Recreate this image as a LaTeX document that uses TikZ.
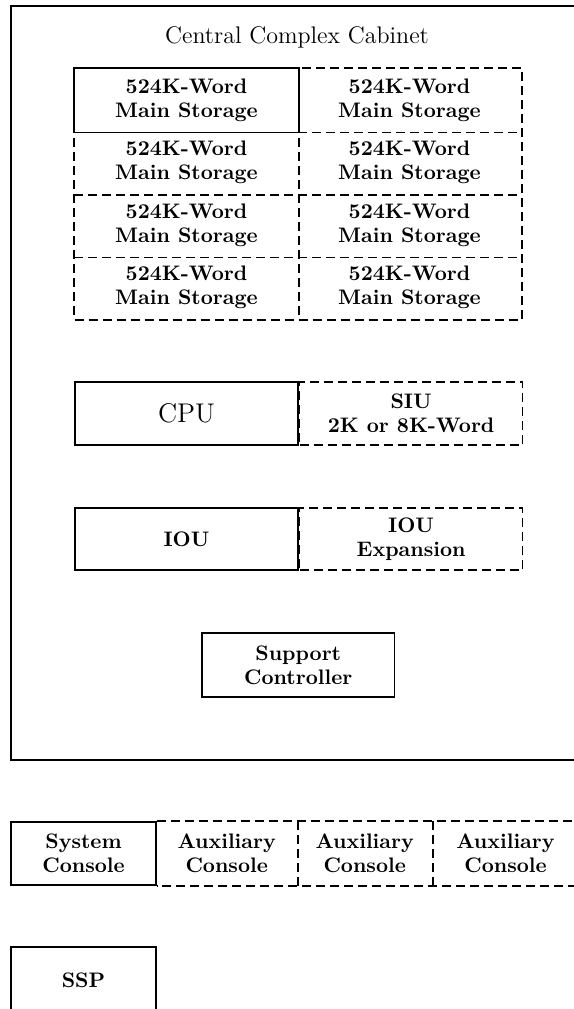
\documentclass[tikz,border=0pt]{standalone}
\usepackage{amsmath}
\usepackage{tikz}
\usetikzlibrary{positioning}

\tikzset{
	unit/.style={minimum width=111.5pt, minimum height=31.25pt, inner sep=0pt, align=center, font=\fontsize{10.5}{12}\selectfont\bfseries, line width=0.8pt},
	fixed/.style={unit, draw},
	spare/.style={unit, draw, dash pattern=on 4.5pt off 2.5pt},
	dsh/.style={line width=0.8pt, dash pattern=on 4.5pt off 2.5pt}
}

\begin{document}
\begin{tikzpicture}[x=0.5pt, y=-0.5pt]
	\useasboundingbox (0,0) rectangle (574,1009);
	\clip (0,0) rectangle (574,1009);

	% cabinet
	\node[draw, line width=0.8pt, minimum width=286pt, minimum height=377pt] (cabinet) at (297,383) {};
	\node[font=\large] (title) at (297,37) {Central Complex Cabinet};

	% main storage
	\foreach \r in {1,...,4}
		\foreach \c in {1,2}
			\node[unit] (st\r\c) at ({186.5+223*(\c-1)}, {100.25+62.5*(\r-1)}) {524K-Word\\Main Storage};
	\draw[dsh] (st11.north west) rectangle (st42.south east);
	\draw[dsh] (st11.north east) -- (st41.south east);
	\foreach \r in {1,2,3}
		\draw[dsh] (st\r1.south west) -- (st\r2.south east);
	\draw[line width=0.8pt] (st11.north west) rectangle (st11.south east);

	\node[fixed, minimum height=31.5pt, font=\fontsize{13.5}{15}\selectfont] (cpu) at (186.5,413.5) {CPU};
	\node[spare, minimum height=31.5pt] (siu) [right=0pt of cpu] {SIU\\2K or 8K-Word};

	\node[fixed] (iou) at (186.5,539) {IOU};
	\node[spare] (ioux) [right=0pt of iou] {IOU\\Expansion};

	\node[fixed, minimum width=96.25pt, minimum height=32pt] (sc) at (298.25,665) {Support\\Controller};

	% consoles
	\node[fixed, minimum width=72.5pt, minimum height=31.5pt] (sys) at (83.5,853.5) {System\\Console};
	\node[unit, minimum width=70.7pt, minimum height=31.5pt] (aux1) at (226.7,853.5) {Auxiliary\\Console};
	\node[unit, minimum width=67.3pt, minimum height=31.5pt] (aux2) at (364.7,853.5) {Auxiliary\\Console};
	\node[unit, minimum width=73.5pt, minimum height=31.5pt] (aux3) at (505.5,853.5) {Auxiliary\\Console};
	\draw[dsh] (sys.north east) -- (aux3.north east) -- (aux3.south east) -- (sys.south east);
	\draw[dsh] (aux1.north east) -- (aux1.south east);
	\draw[dsh] (aux2.north east) -- (aux2.south east);

	\node[fixed, minimum width=72.5pt, minimum height=33pt] (ssp) at (83.5,980) {SSP};
\end{tikzpicture}
\end{document}
